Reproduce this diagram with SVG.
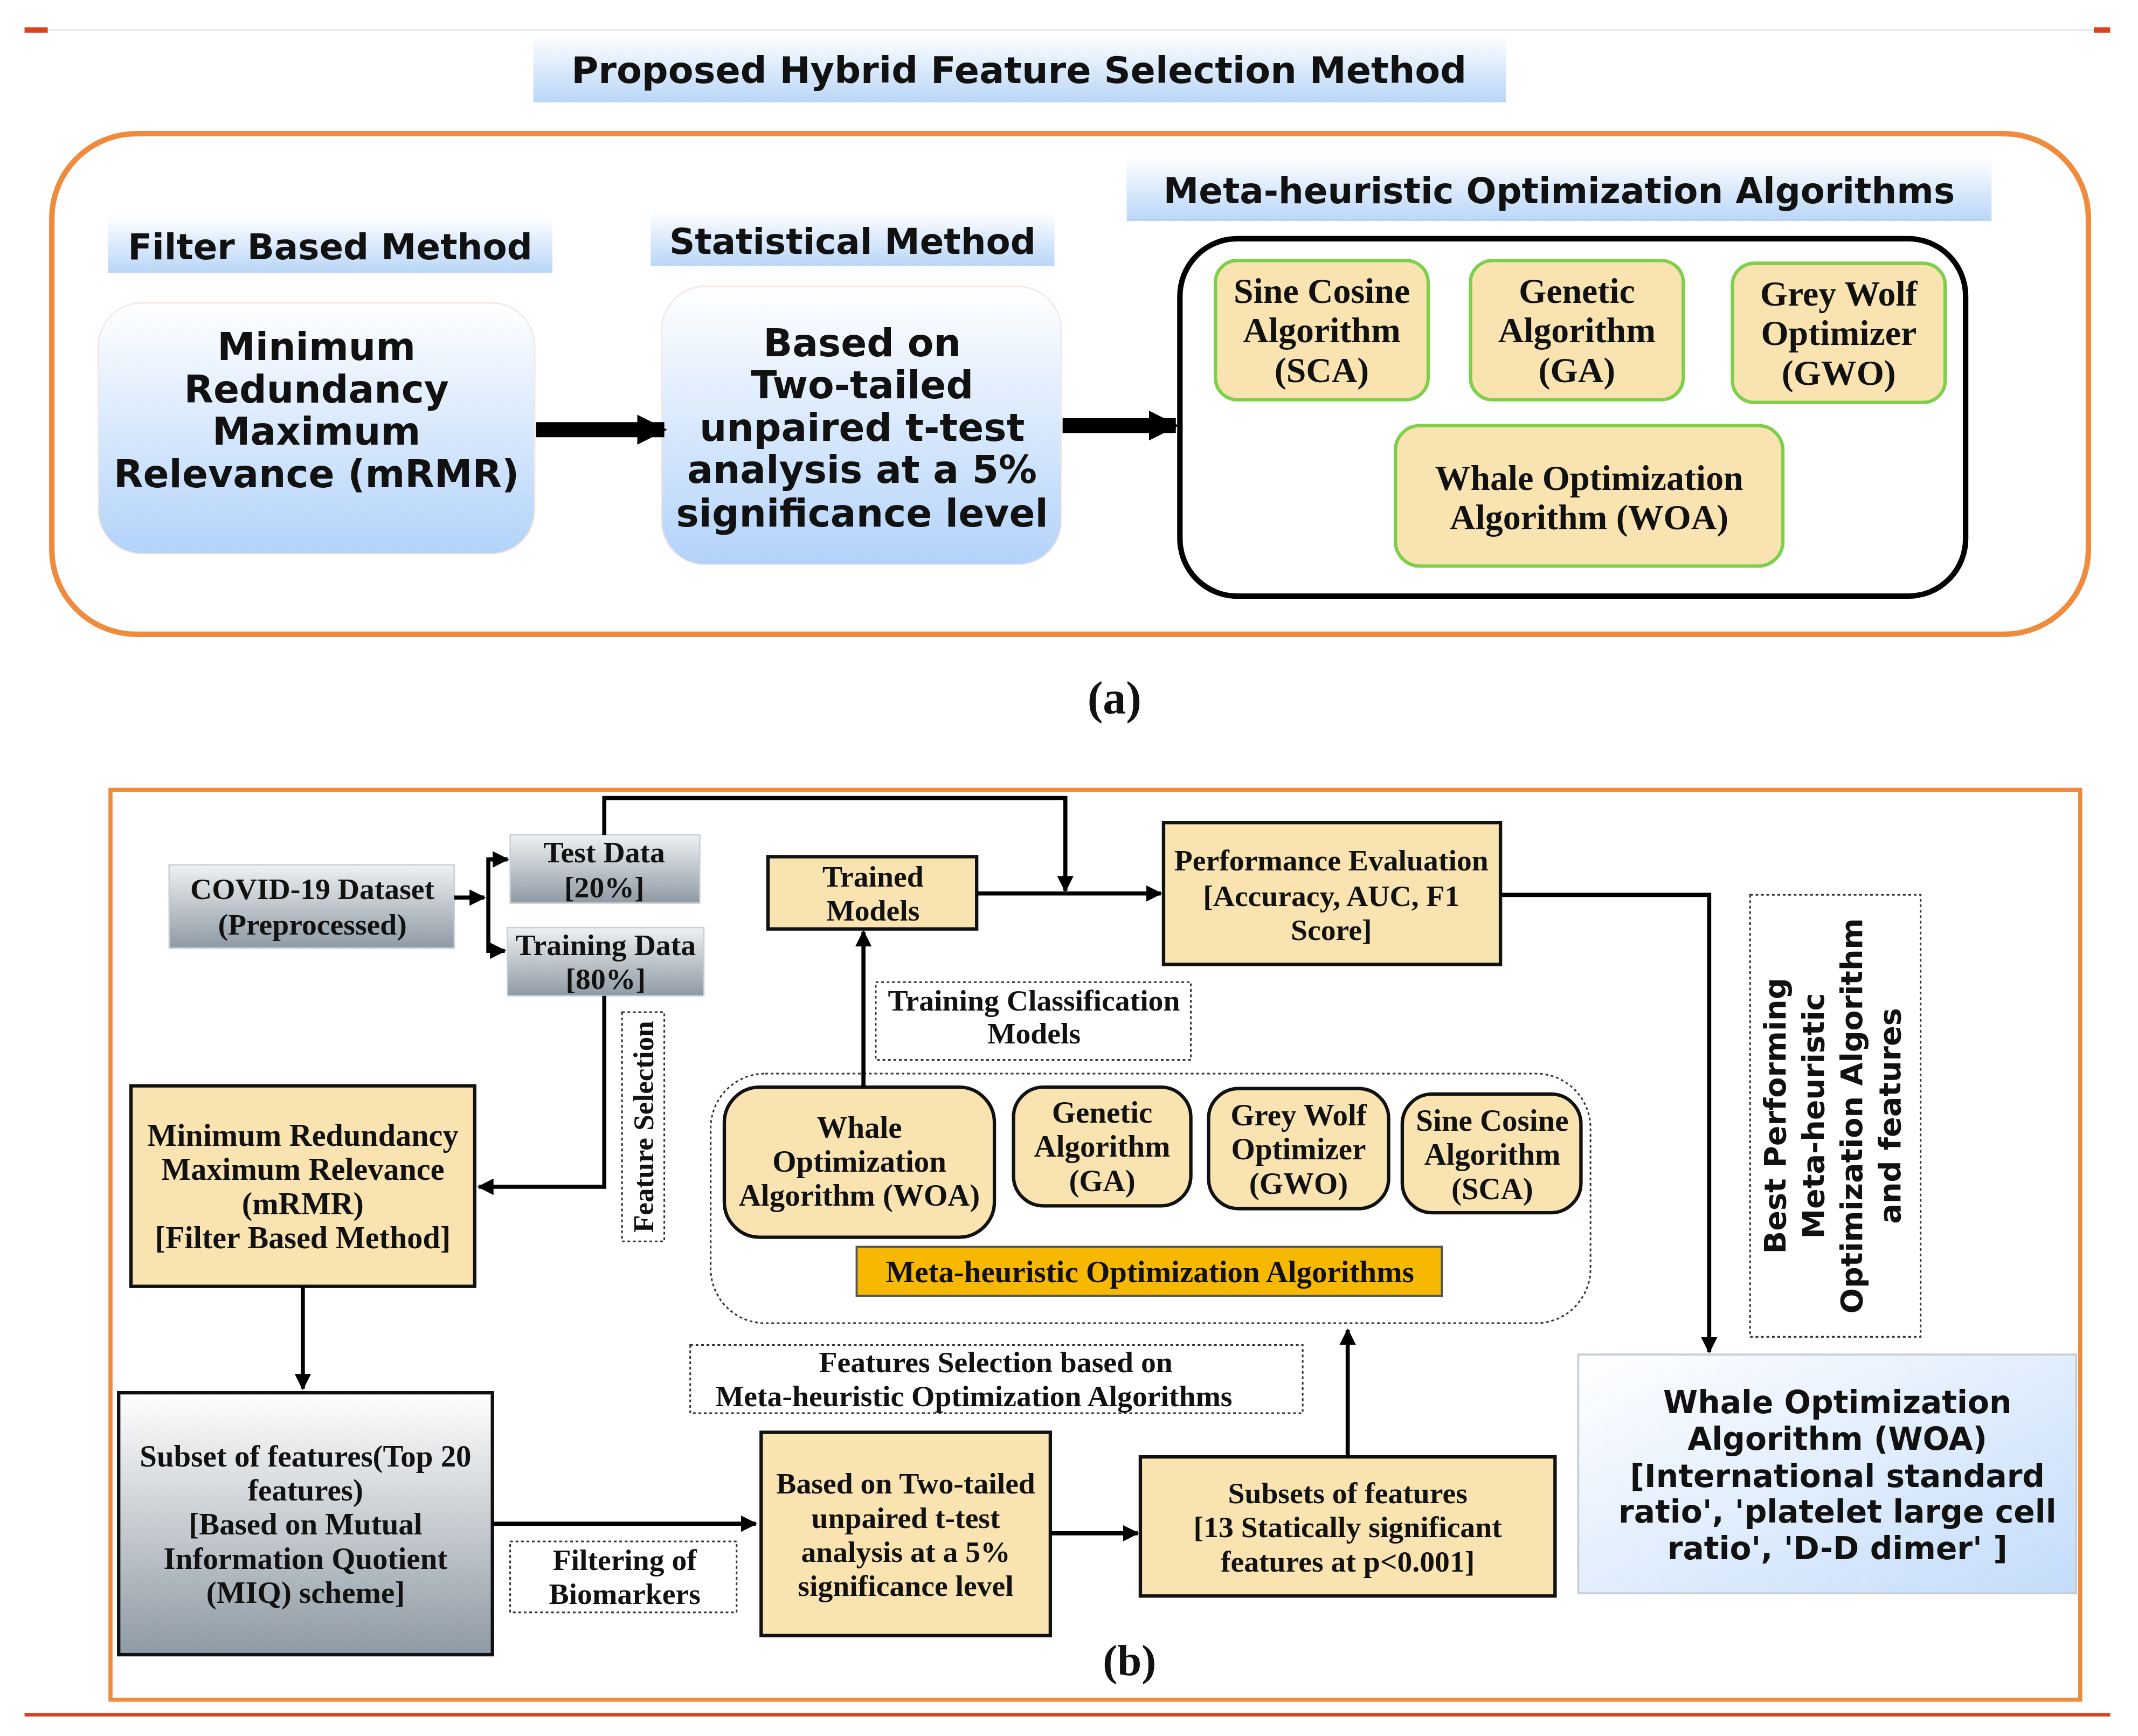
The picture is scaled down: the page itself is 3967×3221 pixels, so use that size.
<svg xmlns="http://www.w3.org/2000/svg" width="3967" height="3221" viewBox="0 0 3967 3221">
<style>
.sa{font-family:"DejaVu Sans","Verdana",sans-serif;font-weight:bold;text-anchor:middle;fill:#111}
.se{font-family:"Liberation Serif","Times New Roman",serif;font-weight:bold;text-anchor:middle;fill:#111}
.hdr{fill:url(#gHdr)}
.yb{fill:#f9e3b0;stroke:#7ed04a;stroke-width:2.5}
.ys{fill:#f9e3b0;stroke:#111;stroke-width:2.5}
.dot{fill:#fff;stroke:#333;stroke-width:1.2;stroke-dasharray:2 2}
.ln{fill:none;stroke:#000;stroke-width:3}
.thick{fill:none;stroke:#000;stroke-width:11}
</style>
<defs>
<linearGradient id="gHdr" x1="0" y1="0" x2="0" y2="1"><stop offset="0" stop-color="#ffffff"/><stop offset="1" stop-color="#b9d6f8"/></linearGradient>
<linearGradient id="gBlue" x1="0" y1="0" x2="0" y2="1"><stop offset="0" stop-color="#ffffff"/><stop offset="1" stop-color="#b3d3fa"/></linearGradient>
<linearGradient id="gGray" x1="0" y1="0" x2="0" y2="1"><stop offset="0" stop-color="#eef1f3"/><stop offset="1" stop-color="#8f9aa4"/></linearGradient>
<linearGradient id="gGray2" x1="0" y1="0" x2="0" y2="1"><stop offset="0" stop-color="#ffffff"/><stop offset="1" stop-color="#8f9aa4"/></linearGradient>
<linearGradient id="gWoa" x1="0" y1="0" x2="1" y2="1"><stop offset="0" stop-color="#ffffff"/><stop offset="1" stop-color="#c3dcfa"/></linearGradient>
<marker id="ah" viewBox="0 0 10 10" refX="9" refY="5" markerWidth="4" markerHeight="4" orient="auto"><path d="M0,0 L10,5 L0,10 z" fill="#000"/></marker>
<marker id="ahb" viewBox="0 0 10 10" refX="9" refY="5" markerWidth="2" markerHeight="3" orient="auto"><path d="M0,0 L10,5 L0,10 z" fill="#000"/></marker>
</defs>
<rect width="3967" height="3221" fill="#fff"/>
<g transform="scale(2.531)">
<line x1="18" y1="22" x2="1547" y2="22" stroke="#e6e6e6" stroke-width="1"/>
<rect x="18" y="20" width="17" height="4" fill="#d9421b"/>
<rect x="1535" y="20" width="12" height="4" fill="#d9421b"/>
<line x1="18" y1="1257" x2="1547" y2="1257" stroke="#d9421b" stroke-width="2.5"/>

<g id="title"><rect x="391" y="25" width="713" height="50" class="hdr"/><text x="747" y="61" class="sa" font-size="27">Proposed Hybrid Feature Selection Method</text></g>
<rect x="38" y="98" width="1493" height="367" rx="62" fill="none" stroke="#f08a3c" stroke-width="4"/>
<g id="hdr-filter"><rect x="79" y="158" width="326" height="42" class="hdr"/><text x="242" y="190" class="sa" font-size="26">Filter Based Method</text></g>
<g id="hdr-stat"><rect x="477" y="155" width="296" height="40" class="hdr"/><text x="625" y="186" class="sa" font-size="26">Statistical Method</text></g>
<g id="hdr-meta"><rect x="826" y="115" width="634" height="47" class="hdr"/><text x="1143" y="149" class="sa" font-size="26">Meta-heuristic Optimization Algorithms</text></g>
<g id="a-mrmr"><rect x="72" y="222" width="320" height="184" rx="32" fill="url(#gBlue)" stroke="#f6e6e0" stroke-width="1"/>
<text class="sa" font-size="28"><tspan x="232" y="264">Minimum</tspan><tspan x="232" y="295">Redundancy</tspan><tspan x="232" y="326">Maximum</tspan><tspan x="232" y="357">Relevance (mRMR)</tspan></text></g>
<g id="a-stat"><rect x="485" y="210" width="293" height="204" rx="32" fill="url(#gBlue)" stroke="#f6e6e0" stroke-width="1"/>
<text class="sa" font-size="28"><tspan x="632" y="261">Based on</tspan><tspan x="632" y="292">Two-tailed</tspan><tspan x="632" y="323">unpaired t-test</tspan><tspan x="632" y="354">analysis at a 5%</tspan><tspan x="632" y="386">significance level</tspan></text></g>
<g id="a-meta"><rect x="865" y="175" width="576" height="262" rx="42" fill="#fff" stroke="#000" stroke-width="4"/></g>
<g id="a-sca"><rect x="891" y="191" width="156" height="102" rx="16" class="yb"/><text class="se" font-size="26"><tspan x="969" y="222">Sine Cosine</tspan><tspan x="969" y="251">Algorithm</tspan><tspan x="969" y="280">(SCA)</tspan></text></g>
<g id="a-ga"><rect x="1078" y="191" width="156" height="102" rx="16" class="yb"/><text class="se" font-size="26"><tspan x="1156" y="222">Genetic</tspan><tspan x="1156" y="251">Algorithm</tspan><tspan x="1156" y="280">(GA)</tspan></text></g>
<g id="a-gwo"><rect x="1270" y="193" width="156" height="102" rx="16" class="yb"/><text class="se" font-size="26"><tspan x="1348" y="224">Grey Wolf</tspan><tspan x="1348" y="253">Optimizer</tspan><tspan x="1348" y="282">(GWO)</tspan></text></g>
<g id="a-woa"><rect x="1023" y="312" width="284" height="103" rx="18" class="yb"/><text class="se" font-size="26"><tspan x="1165" y="359">Whale Optimization</tspan><tspan x="1165" y="388">Algorithm (WOA)</tspan></text></g>
<g id="a-connectors">
<line x1="393" y1="315" x2="487" y2="315" class="thick" marker-end="url(#ahb)"/>
<line x1="779" y1="312" x2="862" y2="312" class="thick" marker-end="url(#ahb)"/>
</g>
<text x="817" y="523" class="se" font-size="34">(a)</text>

<rect x="81" y="579" width="1444" height="667" fill="none" stroke="#f08a3c" stroke-width="3"/>
<g id="covid"><rect x="124" y="634" width="209" height="61" fill="url(#gGray)" stroke="#c8ced3" stroke-width="1"/><text class="se" font-size="22"><tspan x="229" y="659">COVID-19 Dataset</tspan><tspan x="229" y="685">(Preprocessed)</tspan></text></g>
<g id="test"><rect x="374" y="612" width="139" height="50" fill="url(#gGray)" stroke="#c8ced3" stroke-width="1"/><text class="se" font-size="22"><tspan x="443" y="632">Test Data</tspan><tspan x="443" y="658">[20%]</tspan></text></g>
<g id="train"><rect x="372" y="680" width="144" height="50" fill="url(#gGray)" stroke="#c8ced3" stroke-width="1"/><text class="se" font-size="22"><tspan x="444" y="700">Training Data</tspan><tspan x="444" y="725">[80%]</tspan></text></g>
<g id="trained"><rect x="563" y="628" width="153" height="53" class="ys"/><text class="se" font-size="22"><tspan x="640" y="650">Trained</tspan><tspan x="640" y="675">Models</tspan></text></g>
<g id="perf"><rect x="853" y="603" width="247" height="104" class="ys"/><text class="se" font-size="22"><tspan x="976" y="638">Performance Evaluation</tspan><tspan x="976" y="664">[Accuracy, AUC, F1</tspan><tspan x="976" y="689">Score]</tspan></text></g>
<g id="best"><rect x="1283" y="656" width="125" height="324" class="dot"/><text class="sa" font-size="22" transform="translate(1346,818) rotate(-90)"><tspan x="0" y="-37">Best Performing</tspan><tspan x="0" y="-9">Meta-heuristic</tspan><tspan x="0" y="19">Optimization Algorithm</tspan><tspan x="0" y="47">and features</tspan></text></g>
<g id="woa-result"><rect x="1157" y="993" width="365" height="175" fill="url(#gWoa)" stroke="#c8ced3" stroke-width="1.5"/><text class="sa" font-size="23"><tspan x="1347" y="1036">Whale Optimization</tspan><tspan x="1347" y="1063">Algorithm (WOA)</tspan><tspan x="1347" y="1090">[International standard</tspan><tspan x="1347" y="1116">ratio', 'platelet large cell</tspan><tspan x="1347" y="1143">ratio', 'D-D dimer' ]</tspan></text></g>
<g id="featsel"><rect x="456" y="742" width="31" height="168" class="dot"/><text class="se" font-size="21" transform="translate(479,826) rotate(-90)" x="0" y="0">Feature Selection</text></g>
<g id="mrmr"><rect x="96" y="796" width="252" height="147" class="ys"/><text class="se" font-size="23"><tspan x="222" y="840">Minimum Redundancy</tspan><tspan x="222" y="865">Maximum Relevance</tspan><tspan x="222" y="890">(mRMR)</tspan><tspan x="222" y="915">[Filter Based Method]</tspan></text></g>
<g id="subset"><rect x="87" y="1021" width="274" height="192" fill="url(#gGray2)" stroke="#111" stroke-width="2.5"/><text class="se" font-size="22.5"><tspan x="224" y="1075">Subset of features(Top 20</tspan><tspan x="224" y="1100">features)</tspan><tspan x="224" y="1125">[Based on Mutual</tspan><tspan x="224" y="1150">Information Quotient</tspan><tspan x="224" y="1175">(MIQ) scheme]</tspan></text></g>
<g id="filtering"><rect x="374" y="1130" width="166" height="52" class="dot"/><text class="se" font-size="22"><tspan x="458" y="1151">Filtering of</tspan><tspan x="458" y="1176">Biomarkers</tspan></text></g>
<g id="ttest"><rect x="558" y="1050" width="212" height="149" class="ys"/><text class="se" font-size="22"><tspan x="664" y="1095">Based on Two-tailed</tspan><tspan x="664" y="1120">unpaired t-test</tspan><tspan x="664" y="1145">analysis at a 5%</tspan><tspan x="664" y="1170">significance level</tspan></text></g>
<g id="subsets"><rect x="836" y="1068" width="304" height="102" class="ys"/><text class="se" font-size="22"><tspan x="988" y="1102">Subsets of features</tspan><tspan x="988" y="1127">[13 Statically significant</tspan><tspan x="988" y="1152">features at p&lt;0.001]</tspan></text></g>
<g id="fsbased"><rect x="506" y="986" width="449" height="50" class="dot"/><text class="se" font-size="22"><tspan x="730" y="1006">Features Selection based on</tspan><tspan x="714" y="1031">Meta-heuristic Optimization Algorithms</tspan></text></g>
<g id="container"><rect x="521" y="787" width="645" height="183" rx="40" fill="none" stroke="#333" stroke-width="1.2" stroke-dasharray="2 2"/></g>
<g id="b-woa"><rect x="531" y="797" width="198" height="110" rx="26" class="ys"/><text class="se" font-size="22.5"><tspan x="630" y="834">Whale</tspan><tspan x="630" y="859">Optimization</tspan><tspan x="630" y="884">Algorithm (WOA)</tspan></text></g>
<g id="b-ga"><rect x="743" y="797" width="130" height="87" rx="22" class="ys"/><text class="se" font-size="22.5"><tspan x="808" y="823">Genetic</tspan><tspan x="808" y="848">Algorithm</tspan><tspan x="808" y="873">(GA)</tspan></text></g>
<g id="b-gwo"><rect x="886" y="798" width="132" height="88" rx="22" class="ys"/><text class="se" font-size="22.5"><tspan x="952" y="825">Grey Wolf</tspan><tspan x="952" y="850">Optimizer</tspan><tspan x="952" y="875">(GWO)</tspan></text></g>
<g id="b-sca"><rect x="1028" y="802" width="131" height="87" rx="22" class="ys"/><text class="se" font-size="22.5"><tspan x="1094" y="829">Sine Cosine</tspan><tspan x="1094" y="854">Algorithm</tspan><tspan x="1094" y="879">(SCA)</tspan></text></g>
<g id="b-meta"><rect x="628" y="914" width="429" height="36" fill="#f6b800" stroke="#555" stroke-width="1.5"/><text x="843" y="940" class="se" font-size="22.5">Meta-heuristic Optimization Algorithms</text></g>
<g id="tcm"><rect x="642" y="720" width="231" height="57" class="dot"/><text class="se" font-size="22"><tspan x="758" y="741">Training Classification</tspan><tspan x="758" y="765">Models</tspan></text></g>
<g id="b-connectors">
<line x1="333" y1="658" x2="355" y2="658" class="ln" marker-end="url(#ah)"/>
<polyline points="372,630 358,630 358,697 370,697" class="ln" marker-end="url(#ah)"/>
<line x1="358" y1="630" x2="372" y2="630" class="ln" marker-end="url(#ah)"/>
<polyline points="443,612 443,585 781,585 781,653" class="ln" marker-end="url(#ah)"/>
<line x1="716" y1="655" x2="851" y2="655" class="ln" marker-end="url(#ah)"/>
<polyline points="1100,656 1253,656 1253,991" class="ln" marker-end="url(#ah)"/>
<polyline points="443,730 443,870 351,870" class="ln" marker-end="url(#ah)"/>
<line x1="222" y1="943" x2="222" y2="1018" class="ln" marker-end="url(#ah)"/>
<line x1="361" y1="1117" x2="554" y2="1117" class="ln" marker-end="url(#ah)"/>
<line x1="770" y1="1124" x2="834" y2="1124" class="ln" marker-end="url(#ah)"/>
<line x1="988" y1="1068" x2="988" y2="975" class="ln" marker-end="url(#ah)"/>
<line x1="633" y1="797" x2="633" y2="683" class="ln" marker-end="url(#ah)"/>
</g>
<text x="828" y="1228" class="se" font-size="32">(b)</text>
</g>
</svg>
